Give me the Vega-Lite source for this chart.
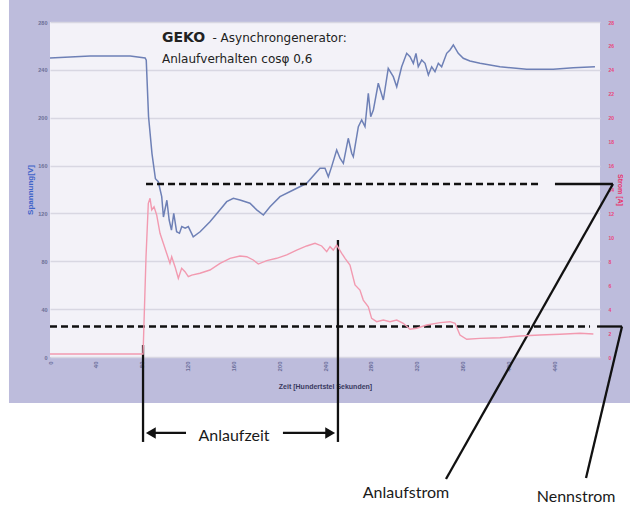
{
  "$schema": "https://vega.github.io/schema/vega-lite/v6.json",
  "width": 550,
  "height": 335,
  "autosize": {"type": "none"},
  "padding": {"left": 50, "top": 22, "right": 30, "bottom": 150},
  "background": "#bdbcdc",
  "config": {
    "view": {"fill": "#f3f2f8", "stroke": null},
    "axis": {"labelFont": "Liberation Sans", "titleFont": "Liberation Sans", "domain": false, "ticks": false},
    "axisX": {"grid": false, "titleFontSize": 7, "titleFontWeight": "bold", "titleColor": "#3a3a60", "titlePadding": 11},
    "axisLeft": {"grid": true, "gridColor": "#d8d7e2", "gridWidth": 1.5, "labelFontSize": 5.5, "labelColor": "#6c6f96", "labelFontWeight": "bold", "labelPadding": 3, "titleColor": "#3e63c9", "titleFontSize": 8, "titleFontWeight": "bold", "titlePadding": 3},
    "axisRight": {"grid": false, "labelFontSize": 5, "labelColor": "#e8457a", "labelFontWeight": "bold", "labelPadding": 8, "titleColor": "#e8336b", "titleFontSize": 7, "titleFontWeight": "bold", "titlePadding": 3}
  },
  "datasets": {
    "volt": [
      {"t": 0, "v": 250}, {"t": 35, "v": 251.5}, {"t": 70, "v": 251.5}, {"t": 83, "v": 250}, {"t": 84, "v": 248},
      {"t": 86, "v": 201}, {"t": 89, "v": 170}, {"t": 92, "v": 149}, {"t": 94.5, "v": 146.5}, {"t": 97.5, "v": 134},
      {"t": 99, "v": 117}, {"t": 102, "v": 131}, {"t": 104, "v": 114.5}, {"t": 106, "v": 106}, {"t": 108, "v": 120},
      {"t": 110.5, "v": 104.7}, {"t": 113, "v": 103.4}, {"t": 115, "v": 109}, {"t": 118, "v": 107.6}, {"t": 120.7, "v": 109},
      {"t": 125, "v": 100.5}, {"t": 131, "v": 104.7}, {"t": 139.6, "v": 113}, {"t": 148.4, "v": 123}, {"t": 154.2, "v": 129.8},
      {"t": 160, "v": 132.6}, {"t": 165.8, "v": 131.2}, {"t": 174.5, "v": 128.5}, {"t": 180.4, "v": 123}, {"t": 186.2, "v": 118.7},
      {"t": 192, "v": 125.6}, {"t": 200.7, "v": 134}, {"t": 212.3, "v": 139.6}, {"t": 224, "v": 145.2}, {"t": 235.6, "v": 157.7},
      {"t": 240, "v": 157.7}, {"t": 242.9, "v": 150.7}, {"t": 245.8, "v": 159.1}, {"t": 250.2, "v": 173}, {"t": 253.1, "v": 166.1},
      {"t": 256, "v": 161.9}, {"t": 260.3, "v": 182.8}, {"t": 263.3, "v": 170.3}, {"t": 264.7, "v": 167.4}, {"t": 269.1, "v": 192.5},
      {"t": 272, "v": 198.1}, {"t": 274.9, "v": 192.5}, {"t": 277.8, "v": 220.4}, {"t": 279.9, "v": 200.8}, {"t": 282.2, "v": 206.4},
      {"t": 286.5, "v": 228.8}, {"t": 290.9, "v": 214.8}, {"t": 295.2, "v": 241.3}, {"t": 299.6, "v": 234.3}, {"t": 302.6, "v": 225.9},
      {"t": 306.9, "v": 242.6}, {"t": 311.3, "v": 253.8}, {"t": 314.2, "v": 251}, {"t": 317.1, "v": 245.5}, {"t": 319.4, "v": 253.8},
      {"t": 321.4, "v": 242.6}, {"t": 324.4, "v": 248.2}, {"t": 327.3, "v": 245.5}, {"t": 330.2, "v": 235.7}, {"t": 333.1, "v": 242.6},
      {"t": 336, "v": 238.5}, {"t": 338.9, "v": 245.5}, {"t": 341.8, "v": 242.6}, {"t": 346.2, "v": 253.8}, {"t": 349.1, "v": 256.6},
      {"t": 352, "v": 260.8}, {"t": 356.3, "v": 253.8}, {"t": 360.7, "v": 249.7}, {"t": 366.5, "v": 247.4}, {"t": 375.3, "v": 245.5},
      {"t": 392.7, "v": 242.6}, {"t": 416, "v": 240.5}, {"t": 439.2, "v": 240.5}, {"t": 456.7, "v": 241.8}, {"t": 475.6, "v": 242.6}
    ],
    "amp": [
      {"t": 0, "a": 0.25}, {"t": 81.2, "a": 0.25}, {"t": 81.4, "a": 0.86}, {"t": 83.8, "a": 8.38}, {"t": 85.8, "a": 12.85},
      {"t": 87.3, "a": 13.26}, {"t": 88.8, "a": 12.29}, {"t": 90.8, "a": 12.56}, {"t": 93.1, "a": 11.87}, {"t": 96, "a": 10.34},
      {"t": 98.9, "a": 9.5}, {"t": 101.8, "a": 8.67}, {"t": 104.7, "a": 7.83}, {"t": 106.2, "a": 8.38}, {"t": 109.1, "a": 7.55},
      {"t": 112, "a": 6.58}, {"t": 114.9, "a": 7.41}, {"t": 117.8, "a": 7.13}, {"t": 120.7, "a": 6.71}, {"t": 123.7, "a": 6.85},
      {"t": 130.9, "a": 7.0}, {"t": 139.6, "a": 7.27}, {"t": 148.4, "a": 7.83}, {"t": 157.1, "a": 8.25}, {"t": 165.8, "a": 8.44},
      {"t": 171.7, "a": 8.38}, {"t": 177.4, "a": 8.11}, {"t": 181.8, "a": 7.77}, {"t": 189.1, "a": 8.05}, {"t": 197.8, "a": 8.25},
      {"t": 206.6, "a": 8.53}, {"t": 215.3, "a": 8.94}, {"t": 224, "a": 9.28}, {"t": 231.3, "a": 9.5}, {"t": 237.1, "a": 9.28},
      {"t": 241.5, "a": 8.8}, {"t": 244.4, "a": 9.22}, {"t": 247.2, "a": 8.94}, {"t": 250.2, "a": 9.36}, {"t": 254.6, "a": 8.67},
      {"t": 257.5, "a": 8.25}, {"t": 261.8, "a": 7.69}, {"t": 266.2, "a": 6.02}, {"t": 270.5, "a": 5.6}, {"t": 273.4, "a": 4.76},
      {"t": 277.8, "a": 4.2}, {"t": 280.7, "a": 3.23}, {"t": 285.1, "a": 2.95}, {"t": 290.9, "a": 3.09}, {"t": 296.7, "a": 2.95},
      {"t": 302.6, "a": 3.09}, {"t": 308.3, "a": 2.82}, {"t": 314.2, "a": 2.32}, {"t": 320, "a": 2.4}, {"t": 328.8, "a": 2.67},
      {"t": 340.4, "a": 2.87}, {"t": 349.1, "a": 2.95}, {"t": 353.5, "a": 2.82}, {"t": 357.8, "a": 1.84}, {"t": 363.7, "a": 1.48},
      {"t": 375.3, "a": 1.56}, {"t": 392.7, "a": 1.61}, {"t": 410.2, "a": 1.76}, {"t": 427.6, "a": 1.84}, {"t": 445.1, "a": 1.9},
      {"t": 462.5, "a": 1.98}, {"t": 474.2, "a": 1.92}
    ],
    "dashed": [
      {"t": 83.8, "t2": 427.6, "v": 144.6, "v2": 144.6},
      {"t": 0, "t2": 471.3, "v": 25.5, "v2": 25.5}
    ],
    "solid": [
      {"t": 440.7, "t2": 491.3, "v": 144.6, "v2": 144.6},
      {"t": 491.3, "t2": 345.6, "v": 144.6, "v2": -102},
      {"t": 477.4, "t2": 499.2, "v": 25.5, "v2": 25.5},
      {"t": 499.2, "t2": 467.8, "v": 25.5, "v2": -101.1},
      {"t": 81.2, "t2": 81.2, "v": 10, "v2": -71},
      {"t": 251.3, "t2": 251.3, "v": 97.8, "v2": -71},
      {"t": 86, "t2": 118.7, "v": -63.5, "v2": -63.5},
      {"t": 203.3, "t2": 245, "v": -63.5, "v2": -63.5}
    ],
    "headsL": [{"t": 88, "v": -63.5}],
    "headsR": [{"t": 244.5, "v": -63.5}],
    "bigText": [
      {"t": 160.6, "v": -66, "label": "Anlaufzeit"},
      {"t": 310.7, "v": -113.7, "label": "Anlaufstrom"},
      {"t": 459.1, "v": -117, "label": "Nennstrom"}
    ],
    "titleBold": [{"t": 97.7, "v": 267, "label": "GEKO"}],
    "titleReg": [
      {"t": 141.8, "v": 267, "label": "- Asynchrongenerator:"},
      {"t": 97.7, "v": 249.1, "label": "Anlaufverhalten cosφ 0,6"}
    ],
    "one": [{}]
  },
  "layer": [
    {
      "layer": [
        {
          "data": {"name": "volt"},
          "mark": {"type": "line", "color": "#6e80b6", "strokeWidth": 1.5, "clip": false},
          "encoding": {
            "x": {
              "field": "t", "type": "quantitative",
              "scale": {"domain": [0, 480], "nice": false, "zero": false},
              "axis": {
                "values": [0,10,20,30,40,50,60,70,80,90,100,110,120,130,140,150,160,170,180,190,200,210,220,230,240,250,260,270,280,290,300,310,320,330,340,350,360,370,380,390,400,410,420,430,440,450,460,470],
                "labelAngle": -90, "labelAlign": "right", "labelBaseline": "middle",
                "labelFontSize": 6, "labelFontWeight": "bold", "labelColor": "#6a6e9a", "labelPadding": 4,
                "labelOverlap": false, "labelBound": false, "labelFlush": false, "labelSeparation": 0,
                "title": "Zeit [Hundertstel Sekunden]"
              }
            },
            "y": {
              "field": "v", "type": "quantitative",
              "scale": {"domain": [0, 280], "nice": false, "zero": false},
              "axis": {"values": [0, 40, 80, 120, 160, 200, 240, 280], "title": "Spannung[V]"}
            }
          }
        },
        {
          "data": {"name": "one"},
          "mark": {"type": "rect", "color": "white", "clip": false},
          "encoding": {
            "x": {"datum": -60, "type": "quantitative"},
            "x2": {"datum": 510},
            "y": {"datum": -38.4, "type": "quantitative"},
            "y2": {"datum": -130}
          }
        },
        {
          "data": {"name": "one"},
          "mark": {"type": "rect", "color": "white", "clip": false},
          "encoding": {
            "x": {"datum": -60, "type": "quantitative"},
            "x2": {"datum": -35.8},
            "y": {"datum": -38.4, "type": "quantitative"},
            "y2": {"datum": 300}
          }
        },
        {
          "data": {"name": "dashed"},
          "mark": {"type": "rule", "color": "#111111", "strokeWidth": 2.5, "strokeDash": [7, 4], "clip": false},
          "encoding": {
            "x": {"field": "t", "type": "quantitative"},
            "x2": {"field": "t2"},
            "y": {"field": "v", "type": "quantitative"},
            "y2": {"field": "v2"}
          }
        },
        {
          "data": {"name": "solid"},
          "mark": {"type": "rule", "color": "#111111", "strokeWidth": 2.3, "clip": false},
          "encoding": {
            "x": {"field": "t", "type": "quantitative"},
            "x2": {"field": "t2"},
            "y": {"field": "v", "type": "quantitative"},
            "y2": {"field": "v2"}
          }
        },
        {
          "data": {"name": "headsL"},
          "mark": {"type": "point", "shape": "triangle-left", "filled": true, "color": "#111111", "size": 130, "opacity": 1, "clip": false},
          "encoding": {
            "x": {"field": "t", "type": "quantitative"},
            "y": {"field": "v", "type": "quantitative"}
          }
        },
        {
          "data": {"name": "headsR"},
          "mark": {"type": "point", "shape": "triangle-right", "filled": true, "color": "#111111", "size": 130, "opacity": 1, "clip": false},
          "encoding": {
            "x": {"field": "t", "type": "quantitative"},
            "y": {"field": "v", "type": "quantitative"}
          }
        },
        {
          "data": {"name": "bigText"},
          "mark": {"type": "text", "font": "Lato", "fontSize": 16, "color": "#1a1a1a", "align": "center", "baseline": "middle", "clip": false},
          "encoding": {
            "x": {"field": "t", "type": "quantitative"},
            "y": {"field": "v", "type": "quantitative"},
            "text": {"field": "label"}
          }
        },
        {
          "data": {"name": "titleBold"},
          "mark": {"type": "text", "font": "DejaVu Sans", "fontSize": 14, "fontWeight": "bold", "color": "#222222", "align": "left", "baseline": "middle", "clip": false},
          "encoding": {
            "x": {"field": "t", "type": "quantitative"},
            "y": {"field": "v", "type": "quantitative"},
            "text": {"field": "label"}
          }
        },
        {
          "data": {"name": "titleReg"},
          "mark": {"type": "text", "font": "DejaVu Sans", "fontSize": 12, "color": "#222222", "align": "left", "baseline": "middle", "clip": false},
          "encoding": {
            "x": {"field": "t", "type": "quantitative"},
            "y": {"field": "v", "type": "quantitative"},
            "text": {"field": "label"}
          }
        }
      ]
    },
    {
      "data": {"name": "amp"},
      "mark": {"type": "line", "color": "#f29ab0", "strokeWidth": 1.4, "clip": false},
      "encoding": {
        "x": {
          "field": "t", "type": "quantitative",
          "axis": {
            "values": [0,10,20,30,40,50,60,70,80,90,100,110,120,130,140,150,160,170,180,190,200,210,220,230,240,250,260,270,280,290,300,310,320,330,340,350,360,370,380,390,400,410,420,430,440,450,460,470],
            "labelAngle": -90, "labelAlign": "right", "labelBaseline": "middle",
            "labelFontSize": 6, "labelFontWeight": "bold", "labelColor": "#6a6e9a", "labelPadding": 4,
            "labelOverlap": false, "labelBound": false, "labelFlush": false, "labelSeparation": 0,
            "title": "Zeit [Hundertstel Sekunden]"
          }
        },
        "y": {
          "field": "a", "type": "quantitative",
          "scale": {"domain": [0, 28], "nice": false, "zero": false},
          "axis": {"orient": "right", "values": [0, 2, 4, 6, 8, 10, 12, 14, 16, 18, 20, 22, 24, 26, 28], "title": "Strom [A]"}
        }
      }
    }
  ],
  "resolve": {"scale": {"y": "independent"}}
}
